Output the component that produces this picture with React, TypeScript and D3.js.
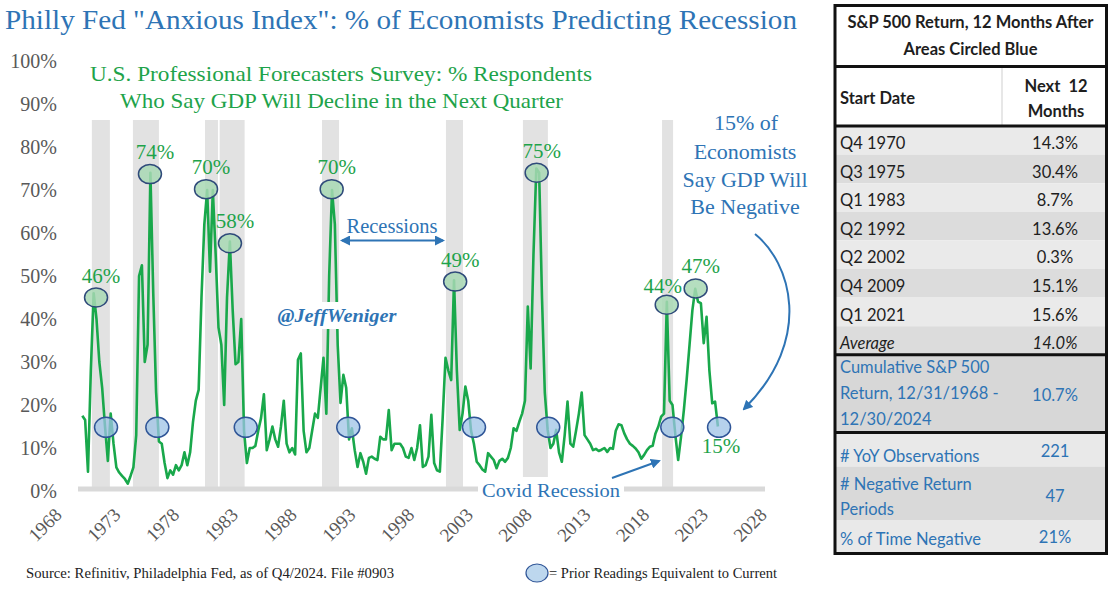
import * as d3 from 'd3';

// quarterly readings, % of respondents expecting GDP decline next quarter
const firstQuarter = 1968.75; // Q4 1968
const anxious1960s = [17.5, 16.5, 4.5, 28, 46];
const anxious1970s = [
  40, 30, 24, 15, 7, 18, 11, 5.5, 4.3, 3.5, 2.8, 1.7, 3.5, 5.5, 13, 50, 52.5, 30, 34, 74,
  46, 23, 11.5, 11, 6.5, 3, 4.8, 3.8, 6, 4.8, 6, 9, 6, 9, 16, 21, 23.5, 45, 62, 70,
];
const anxious1980s = [
  51, 70, 55, 38, 34, 20, 45, 58, 42, 29.5, 30, 40, 14, 6.5, 10, 10, 10.5, 14, 17, 22.5,
  9.5, 12, 15, 12, 10.3, 15, 21, 11, 9, 10, 8.5, 30.5, 32, 14, 9, 10, 14, 18, 17, 24,
];
const anxious1990s = [
  31, 18, 50, 70, 62, 34, 20.5, 27, 24, 12, 14.6, 9.5, 5.6, 8.8, 6.8, 4, 7.7, 8, 7.5, 7.2,
  12.6, 12, 12, 18.8, 9.5, 11, 11, 11, 10, 8, 7.7, 10, 7.2, 10, 15.3, 5.6, 6, 8, 17.7, 6.5,
];
const anxious2000s = [
  4.8, 4.5, 17, 31, 28, 25.8, 49, 28, 14.2, 18, 24.3, 21, 14, 11, 6.8, 6, 5, 4.5, 8.8, 8,
  7.2, 5.3, 7, 7.5, 6.8, 7.7, 10, 14.6, 14, 16.1, 18, 21, 42.9, 28.5, 55, 75, 74, 45, 22.8, 14.2,
];
const anxious2010s = [
  10, 11, 14.2, 9, 6.8, 13, 20.8, 11, 10.3, 14, 18, 22.9, 13, 12, 11, 9.5, 9.8, 9.3, 9.6, 10,
  9.1, 10, 9.8, 14, 15.5, 15.3, 13.4, 12, 11, 10.5, 9.9, 9, 7.5, 8.4, 9.5, 10.3, 10.5, 13.4, 15, 17.3,
];
const anxious2020s = [18, 44, 21, 20, 13, 7.2, 12.6, 18.8, 26, 34, 42, 47, 44, 43.7, 34.4, 40.5, 28, 20.4, 20.8, 15];

const anxiousIndex = [
  ...anxious1960s, ...anxious1970s, ...anxious1980s, ...anxious1990s,
  ...anxious2000s, ...anxious2010s, ...anxious2020s,
];

// shaded recession periods (decimal years, as drawn)
const recessionStart = [1969.59, 1973.21, 1979.56, 1980.85, 1989.87, 2000.79, 2007.57, 2019.83];
const recessionEnd = [1971.18, 1975.5, 1980.7, 1983.05, 1991.37, 2002.29, 2009.77, 2020.8];

// circled peaks
const peakDates = [1969.96, 1974.71, 1979.65, 1981.76, 1990.72, 2001.6, 2008.78, 2020.24, 2022.79];
const peakValues = [45, 73.7, 70.2, 57.6, 70.2, 48.7, 74, 43.3, 47.1];
const peakLabels = ['46%', '74%', '70%', '58%', '70%', '49%', '75%', '44%', '47%'];

// prior readings equivalent to current (blue circles)
const priorDates = [1970.84, 1975.36, 1983.15, 1992.18, 2003.26, 2009.8, 2020.73, 2024.85];
const currentReading = 14.8;

const yTicks = d3.range(0, 101, 10);
const xTicks = d3.range(1968, 2029, 5);

// table
const tableStarts = ['Q4 1970', 'Q3 1975', 'Q1 1983', 'Q2 1992', 'Q2 2002', 'Q4 2009', 'Q1 2021'];
const tableReturns = ['14.3%', '30.4%', '8.7%', '13.6%', '0.3%', '15.1%', '15.6%'];
const averageReturn = '14.0%';
const cumulativeReturn = '10.7%';
const yoyObservations = '221';
const negativePeriods = '47';
const pctNegative = '21%';

const W = 1119;
const H = 590;
const BLUE = '#2e74b5';
const GREEN = '#1ea34a';
const LINE = '#19a84b';
const GRAY = '#595959';
const SERIF = '"Liberation Serif", serif';
const SANS = 'Lato, "Open Sans", sans-serif';

const x = d3.scaleLinear().domain([1968, 2028]).range([73.8, 754.8]);
// the category labels are spread slightly wider than the plotted dates
const xLabel = d3.scaleLinear().domain([1968, 2028]).range([63, 768]);
const y = d3.scaleLinear().domain([0, 100]).range([491, 61]);

const line = d3
  .line<number>()
  .x((_, i) => x(firstQuarter + i * 0.25))
  .y((d) => y(d));

const labelOffset = (i: number) => (i === 7 ? [-4, -12] : [5, -15]);

const Table = () => {
  const left = 835;
  const right = 1106.5;
  const tx = 840;
  const vx = 1055;
  const rowTop = 126;
  const rowH = 28.6;
  const rows = [...tableStarts.map((d, i) => [d, tableReturns[i]]), ['Average', averageReturn]];
  const endRows = rowTop + rows.length * rowH;
  return (
    <g fontFamily={SANS} fontSize={16.5}>
      <rect x={left} y={5.5} width={right - left} height={61} fill='#fff' />
      <rect x={left} y={66.5} width={right - left} height={59.5} fill='#fff' />
      {rows.map((r, i) => (
        <g key={r[0]}>
          <rect x={left} y={rowTop + i * rowH} width={right - left} height={rowH} fill={i % 2 ? '#dcdcdc' : '#eaeaea'} />
          <text x={tx} y={rowTop + i * rowH + 23} fill='#1e1e1e' fontStyle={i === 7 ? 'italic' : 'normal'}>
            {r[0]}
          </text>
          <text x={vx} y={rowTop + i * rowH + 23} fill='#1e1e1e' textAnchor='middle' fontStyle={i === 7 ? 'italic' : 'normal'}>
            {r[1]}
          </text>
        </g>
      ))}
      <rect x={left} y={endRows} width={right - left} height={432.5 - endRows} fill='#d7d7d7' />
      <rect x={left} y={432.5} width={right - left} height={34} fill='#e9e9e9' />
      <rect x={left} y={466.5} width={right - left} height={53.5} fill='#d9d9d9' />
      <rect x={left} y={520} width={right - left} height={33.5} fill='#e9e9e9' />

      <g fontWeight={700} fill='#1e1e1e'>
        <text x={970.5} y={28} textAnchor='middle'>S&amp;P 500 Return, 12 Months After</text>
        <text x={970.5} y={55} textAnchor='middle'>Areas Circled Blue</text>
        <text x={tx} y={104}>Start Date</text>
        <text x={1056} y={92} textAnchor='middle' style={{ whiteSpace: 'pre' }}>Next  12</text>
        <text x={1056} y={117} textAnchor='middle'>Months</text>
      </g>
      <line x1={1002} x2={1002} y1={67} y2={126} stroke='#cfcfcf' strokeWidth={1} />

      <g fill={BLUE}>
        <text x={tx} y={373}>Cumulative S&amp;P 500</text>
        <text x={tx} y={398.5}>Return, 12/31/1968 -</text>
        <text x={tx} y={424.5}>12/30/2024</text>
        <text x={vx} y={401} textAnchor='middle'>{cumulativeReturn}</text>
        <text x={tx} y={461.5}># YoY Observations</text>
        <text x={vx} y={456.5} textAnchor='middle'>{yoyObservations}</text>
        <text x={tx} y={490}># Negative Return</text>
        <text x={tx} y={515}>Periods</text>
        <text x={vx} y={501.5} textAnchor='middle'>{negativePeriods}</text>
        <text x={tx} y={545}>% of Time Negative</text>
        <text x={vx} y={543} textAnchor='middle'>{pctNegative}</text>
      </g>

      <g stroke='#111' strokeWidth={3} fill='none'>
        <rect x={left} y={5.5} width={right - left} height={548} />
        <line x1={left} x2={right} y1={66.5} y2={66.5} />
        <line x1={left} x2={right} y1={126} y2={126} />
        <line x1={left} x2={right} y1={endRows} y2={endRows} />
        <line x1={left} x2={right} y1={432.5} y2={432.5} />
      </g>
    </g>
  );
};

const App = () => {
  return (
    <div style={{ position: 'absolute', left: 0, top: 0 }}>
      <svg width={W} height={H} style={{ display: 'block', background: '#fff' }}>
        <defs>
          <marker id='arrow' viewBox='0 0 10 10' refX='8' refY='5' markerWidth='5' markerHeight='5' orient='auto-start-reverse'>
            <path d='M0,0 L10,5 L0,10 z' fill={BLUE} />
          </marker>
        </defs>

        {/* recession bands */}
        {recessionStart.map((s, i) => (
          <rect key={s} x={x(s)} y={120} width={x(recessionEnd[i]) - x(s)} height={y(0) - 120} fill='#e2e2e2' />
        ))}

        {/* x axis line */}
        <line x1={x(1968.37)} x2={x(2028.9)} y1={y(0) - 2} y2={y(0) - 2} stroke='#d9d9d9' strokeWidth={5} />

        {/* y axis labels */}
        <g fontFamily={SERIF} fontSize={20} fill={GRAY}>
          {yTicks.map((t) => (
            <text key={t} x={57} y={y(t)} dy='0.35em' textAnchor='end'>
              {t}%
            </text>
          ))}
        </g>

        {/* x axis labels */}
        <g fontFamily={SERIF} fontSize={19} fill={GRAY}>
          {xTicks.map((t) => (
            <text key={t} transform={`translate(${xLabel(t)},516) rotate(-45)`} textAnchor='end'>
              {t}
            </text>
          ))}
        </g>

        {/* series */}
        <path d={line(anxiousIndex) ?? ''} fill='none' stroke={LINE} strokeWidth={2.6} strokeLinejoin='round' />

        {/* watermark with white backing */}
        <rect x={276} y={302} width={124} height={27} fill='#fff' />
        <text x={337} y={322} textAnchor='middle' fontFamily={SERIF} fontSize={19} fontWeight={700} fontStyle='italic' fill={BLUE} textLength={119} lengthAdjust='spacingAndGlyphs'>
          @JeffWeniger
        </text>

        {/* peak circles */}
        {peakDates.map((d, i) => (
          <ellipse key={d} cx={x(d)} cy={y(peakValues[i])} rx={11.5} ry={9.5} fill='#a8d8b4' fillOpacity={0.85} stroke='#2f4a7a' strokeWidth={1.5} />
        ))}
        <g fontFamily={SERIF} fontSize={21} fill={GREEN}>
          {peakDates.map((d, i) => {
            const [dx, dy] = labelOffset(i);
            return (
              <text key={d} x={x(d) + dx} y={y(peakValues[i]) + dy} textAnchor='middle'>
                {peakLabels[i]}
              </text>
            );
          })}
        </g>

        {/* prior readings equivalent to current */}
        {priorDates.map((d) => (
          <ellipse key={d} cx={x(d)} cy={y(currentReading)} rx={11.5} ry={10} fill='#9dc3e6' fillOpacity={0.75} stroke='#2f5597' strokeWidth={1.5} />
        ))}
        <text x={x(priorDates[priorDates.length - 1]) + 2} y={453} textAnchor='middle' fontFamily={SERIF} fontSize={21} fill={GREEN}>
          15%
        </text>

        {/* titles */}
        <text x={5} y={29} fontFamily={SERIF} fontSize={27} fill={BLUE} textLength={792} lengthAdjust='spacingAndGlyphs'>
          Philly Fed "Anxious Index": % of Economists Predicting Recession
        </text>
        <g fontFamily={SERIF} fontSize={21} fill={GREEN} textAnchor='middle'>
          <text x={341} y={81} textLength={502} lengthAdjust='spacingAndGlyphs'>
            U.S. Professional Forecasters Survey: % Respondents
          </text>
          <text x={341.5} y={108} textLength={443} lengthAdjust='spacingAndGlyphs'>
            Who Say GDP Will Decline in the Next Quarter
          </text>
        </g>

        {/* annotations */}
        <text x={392} y={233} textAnchor='middle' fontFamily={SERIF} fontSize={20} fill={BLUE} textLength={91} lengthAdjust='spacingAndGlyphs'>
          Recessions
        </text>
        <line x1={342} x2={443} y1={240.5} y2={240.5} stroke={BLUE} strokeWidth={2} markerStart='url(#arrow)' markerEnd='url(#arrow)' />

        <g fontFamily={SERIF} fontSize={22} fill={BLUE} textAnchor='middle'>
          <text x={746} y={130}>15% of</text>
          <text x={745} y={159}>Economists</text>
          <text x={745} y={187}>Say GDP Will</text>
          <text x={745} y={214}>Be Negative</text>
        </g>
        <path d='M755,234 C790,262 815,338 744,409' fill='none' stroke={BLUE} strokeWidth={2} markerEnd='url(#arrow)' />

        <rect x={478} y={477} width={146} height={27} fill='#fff' />
        <text x={551} y={497} textAnchor='middle' fontFamily={SERIF} fontSize={19.5} fill={BLUE} textLength={138} lengthAdjust='spacingAndGlyphs'>
          Covid Recession
        </text>
        <line x1={612} y1={478} x2={659} y2={461} stroke={BLUE} strokeWidth={2} markerEnd='url(#arrow)' />

        {/* footer */}
        <text x={26} y={578} fontFamily={SERIF} fontSize={14} fill='#222' textLength={368} lengthAdjust='spacingAndGlyphs'>
          Source: Refinitiv, Philadelphia Fed, as of Q4/2024. File #0903
        </text>
        <ellipse cx={537} cy={573} rx={11} ry={9} fill='#bdd7ee' stroke='#2f5597' strokeWidth={1.2} />
        <text x={549} y={578} fontFamily={SERIF} fontSize={14} fill='#222' textLength={228} lengthAdjust='spacingAndGlyphs'>
          = Prior Readings Equivalent to Current
        </text>

        <Table />
      </svg>
    </div>
  );
};

export default App;
